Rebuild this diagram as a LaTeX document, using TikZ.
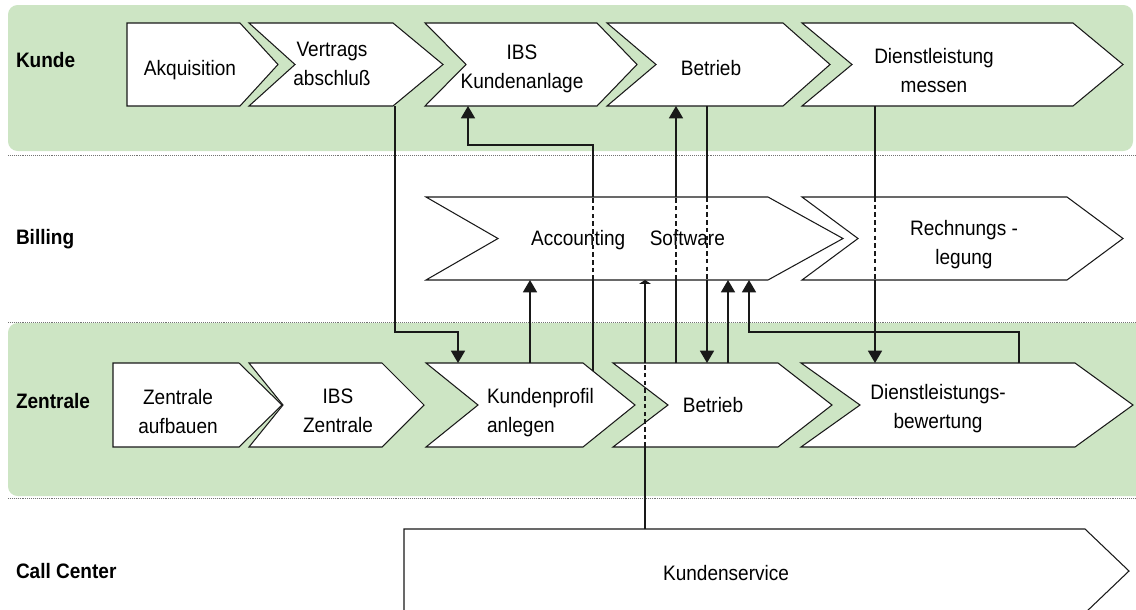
\documentclass[tikz,border=0pt]{standalone}
\usepackage{fontspec}
\setmainfont{Liberation Sans}[FakeStretch=0.91]
\usetikzlibrary{arrows.meta,fit}
\definecolor{lanegreen}{RGB}{205,229,196}

% chevron shape: name, left x, notch x, right x, tip x, top y, bottom y
\newcommand\chevbox[7]{%
  \filldraw[boxline] (#2,#6) -- (#4,#6) -- (#5,{(#6+#7)/2}) -- (#4,#7)
    -- (#2,#7) -- (#3,{(#6+#7)/2}) -- cycle;
  \node[fit={(#2,#6) (#5,#7)}, inner sep=0pt, outer sep=0pt] (#1) {};
}

\begin{document}
\begin{tikzpicture}[x=0.02cm, y=-0.02cm,
  every node/.style={font=\fontsize{11.9}{16.4}\selectfont, inner sep=0pt, outer sep=0pt},
  lane/.style={fill=lanegreen, rounded corners=5.5pt},
  lanesep/.style={draw=black!55, line width=0.5pt, dash pattern=on 0.5pt off 0.6pt},
  boxline/.style={draw=black!90, fill=white, line width=0.6pt, line join=miter},
  conn/.style={draw=black!90, line width=0.75pt},
  arr/.style={conn, -{Triangle[length=7pt,width=8pt]}},
  smallarr/.style={conn, -{Triangle[length=2.2pt,width=6.6pt]}},
  hidden/.style={conn, dash pattern=on 2.6pt off 1.8pt},
  lanelabel/.style={font=\fontsize{11.9}{16.4}\selectfont\bfseries, anchor=base west},
  txt/.style={anchor=base, align=center}]

\clip (0,0) rectangle (1136,609);

% swimlanes
\fill[lane] (8,5) rectangle (1133,151);
\fill[lane] (8,323) rectangle (1160,496);
\draw[lanesep] (8,155) -- (1136,155);
\draw[lanesep] (8,322) -- (1136,322);
\draw[lanesep] (8,498) -- (1136,498);

\node[lanelabel] (lKunde) at (16,67) {Kunde};
\node[lanelabel] (lBilling) at (16,244) {Billing};
\node[lanelabel] (lZentrale) at (16,408) {Zentrale};
\node[lanelabel] (lCall) at (16,578) {Call Center};

% process steps
\chevbox{A}{127}{127}{240}{278}{23}{106}
\chevbox{B}{249}{295}{393}{443}{23}{106}
\chevbox{C}{425}{466}{597}{637}{23}{106}
\chevbox{D}{607}{656}{783}{830}{23}{106}
\chevbox{E}{802}{852}{1073}{1123}{23}{106}
\chevbox{F}{426}{498}{768}{843}{197}{280}
\chevbox{G}{802}{858}{1067}{1123}{197}{280}
\chevbox{H}{113}{113}{239}{282}{363}{447}
\chevbox{I}{249}{283}{382}{424}{363}{447}
\chevbox{J}{426}{478}{583}{635}{363}{447}
\chevbox{K}{613}{668}{778}{832}{363}{447}
\chevbox{L}{801}{860}{1075}{1133}{363}{447}
\chevbox{M}{404}{404}{1085}{1129}{529}{613}

% step texts (two-line texts are placed by the baseline of their last line)
\node[txt] (tA) at (190,75) {Akquisition};
\node[txt] (tB) at (332,85) {Vertrags\\abschluß};
\node[txt] (tC) at (522,88) {IBS\\Kundenanlage};
\node[txt] (tD) at (711,75) {Betrieb};
\node[txt] (tE) at (934,92) {Dienstleistung\\messen};
\node[txt] (tF) at (628,245) {Accounting\hspace{14pt}Software};
\node[txt] (tG) at (964,264) {Rechnungs -\\legung};
\node[txt] (tH) at (178,433) {Zentrale\\aufbauen};
\node[txt] (tI) at (338,432) {IBS\\Zentrale};
\node[txt, align=left, anchor=base west] (tJ) at (487,432) {Kundenprofil\\anlegen};
\node[txt] (tK) at (713,412) {Betrieb};
\node[txt] (tL) at (938,428) {Dienstleistungs-\\bewertung};
\node[txt] (tM) at (726,580) {Kundenservice};

% bend points and vertical tracks of the connectors
\coordinate (vtBend) at (395,332);
\coordinate (kpBend) at (458,332);
\coordinate (kpUp) at (530,300);
\coordinate (kpDiag) at (593,371);
\coordinate (kaBend1) at (593,145);
\coordinate (kaBend2) at (468,145);
\coordinate (btUp) at (676,300);
\coordinate (btDown) at (707,300);
\coordinate (btAcc) at (728,300);
\coordinate (dbBend1) at (1019,332);
\coordinate (dbBend2) at (749,332);
\coordinate (dmDown) at (875,300);
\coordinate (ksUp) at (645,500);

% Vertragsabschluss -> Kundenprofil anlegen
\draw[arr] (B.south -| vtBend) -- (vtBend) -- (kpBend) -- (J.north -| kpBend);
% Kundenprofil anlegen -> Accounting Software
\draw[arr] (J.north -| kpUp) -- (F.south -| kpUp);
% Kundenprofil anlegen -> IBS Kundenanlage
\draw[conn] (kpDiag) -- (F.south -| kpDiag);
\draw[hidden] (F.south -| kpDiag) -- (F.north -| kpDiag);
\draw[arr] (F.north -| kpDiag) -- (kaBend1) -- (kaBend2) -- (C.south -| kaBend2);
% Betrieb (Zentrale) -> Betrieb (Kunde)
\draw[conn] (K.north -| btUp) -- (F.south -| btUp);
\draw[hidden] (F.south -| btUp) -- (F.north -| btUp);
\draw[arr] (F.north -| btUp) -- (D.south -| btUp);
% Betrieb (Kunde) -> Betrieb (Zentrale)
\draw[conn] (D.south -| btDown) -- (F.north -| btDown);
\draw[hidden] (F.north -| btDown) -- (F.south -| btDown);
\draw[arr] (F.south -| btDown) -- (K.north -| btDown);
% Betrieb (Zentrale) -> Accounting Software
\draw[arr] (K.north -| btAcc) -- (F.south -| btAcc);
% Dienstleistungsbewertung -> Accounting Software
\draw[arr] (L.north -| dbBend1) -- (dbBend1) -- (dbBend2) -- (F.south -| dbBend2);
% Dienstleistung messen -> Dienstleistungsbewertung
\draw[conn] (E.south -| dmDown) -- (G.north -| dmDown);
\draw[hidden] (G.north -| dmDown) -- (G.south -| dmDown);
\draw[arr] (G.south -| dmDown) -- (L.north -| dmDown);
% Kundenservice -> Accounting Software
\draw[conn] (M.north -| ksUp) -- (K.south -| ksUp);
\draw[hidden] (K.south -| ksUp) -- (K.north -| ksUp);
\draw[smallarr] (K.north -| ksUp) -- (F.south -| ksUp);

\end{tikzpicture}
\end{document}
